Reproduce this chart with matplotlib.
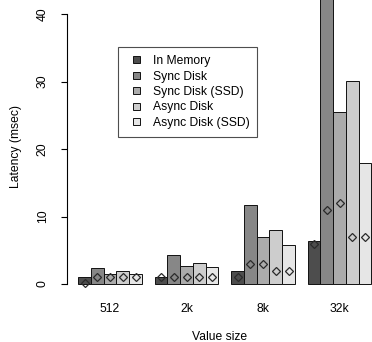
import numpy as np
import matplotlib
matplotlib.use("Agg")
import matplotlib.pyplot as plt
from matplotlib.patches import Patch, Rectangle
from matplotlib.legend_handler import HandlerPatch

plt.rcParams["font.family"] = ["Liberation Sans", "DejaVu Sans"]

# ── data ─────────────────────────────────────────────────────────
sizes = ["512", "2k", "8k", "32k"]
series = ["In Memory", "Sync Disk", "Sync Disk (SSD)", "Async Disk", "Async Disk (SSD)"]
colors = ["#4d4d4d", "#878787", "#ababab", "#cdcdcd", "#e6e6e6"]

# bar heights (mean latency, msec), one list per series across value sizes
mean_latency = [
    [1.0, 1.05, 2.0, 6.35],     # In Memory
    [2.3, 4.25, 11.75, 50.0],   # Sync Disk
    [1.45, 2.7, 6.9, 25.5],     # Sync Disk (SSD)
    [2.0, 3.05, 8.05, 30.05],   # Async Disk
    [1.45, 2.45, 5.75, 18.0],   # Async Disk (SSD)
]
# diamond markers (median latency, msec)
median_latency = [
    [0.2, 1.0, 1.0, 5.9],
    [1.0, 1.0, 3.0, 11.0],
    [1.0, 1.0, 3.0, 12.0],
    [1.0, 1.0, 2.0, 7.0],
    [1.0, 1.0, 2.0, 7.0],
]
yticks = [0, 10, 20, 30, 40]

# ── figure ───────────────────────────────────────────────────────
W, H, DPI = 372, 342, 100
fig = plt.figure(figsize=(W / DPI, H / DPI), dpi=DPI, facecolor="white")
ax_bottom = 292
ax = fig.add_axes([66.7 / W, (H - ax_bottom) / H, 1 - 66.7 / W, ax_bottom / H])

px_per_ms = 6.75
ax.set_ylim(-(ax_bottom - 284) / px_per_ms, 284 / px_per_ms)
ax.set_xlim(0.094, 24.04)

n_series = len(series)
group_w = n_series + 1
for s in range(n_series):
    xs = np.array([1 + g * group_w + s + 0.5 for g in range(len(sizes))])
    ax.bar(xs, mean_latency[s], width=1.0, color=colors[s],
           edgecolor="#111111", linewidth=0.7, label=series[s], zorder=2)
    ax.plot(xs, median_latency[s], linestyle="none", marker="D", markersize=4.4,
            markerfacecolor="none", markeredgecolor="#2a2a2a",
            markeredgewidth=0.9, zorder=3)

centers = [1 + g * group_w + n_series / 2 for g in range(len(sizes))]
ax.set_xticks(centers)
ax.set_xticklabels(sizes, fontsize=8.7)
ax.tick_params(axis="x", length=0, pad=8)

ax.set_yticks(yticks)
ax.set_yticklabels([str(t) for t in yticks], fontsize=8.7, rotation=90, va="center")
ax.tick_params(axis="y", length=4, width=0.8, pad=9)

for side in ("top", "right", "bottom"):
    ax.spines[side].set_visible(False)
ax.spines["left"].set_bounds(0, 40)
ax.spines["left"].set_linewidth(0.8)

ax.set_ylabel("Latency (msec)", fontsize=8.7, labelpad=10.5)
ax.set_xlabel("Value size", fontsize=8.7, labelpad=11.5)


def square_patch(legend, orig_handle, xdescent, ydescent, width, height, fontsize):
    s = 5.0
    return Rectangle((width - s - xdescent, (height - s) / 2 - ydescent), s, s)


handles = [Patch(facecolor=c, edgecolor="#111111", linewidth=0.7) for c in colors]
leg = fig.legend(handles, series, loc="upper left",
                 bbox_to_anchor=(118.3 / W, 1 - 47.3 / H), borderaxespad=0,
                 fontsize=8.7, frameon=True, fancybox=False, edgecolor="#222222",
                 handlelength=1.15, handleheight=0.6, handletextpad=1.06,
                 labelspacing=0.28, borderpad=0.65,
                 handler_map={Patch: HandlerPatch(patch_func=square_patch)})
leg.get_frame().set_linewidth(0.8)

fig.savefig("out.png", dpi=DPI, facecolor="white")
